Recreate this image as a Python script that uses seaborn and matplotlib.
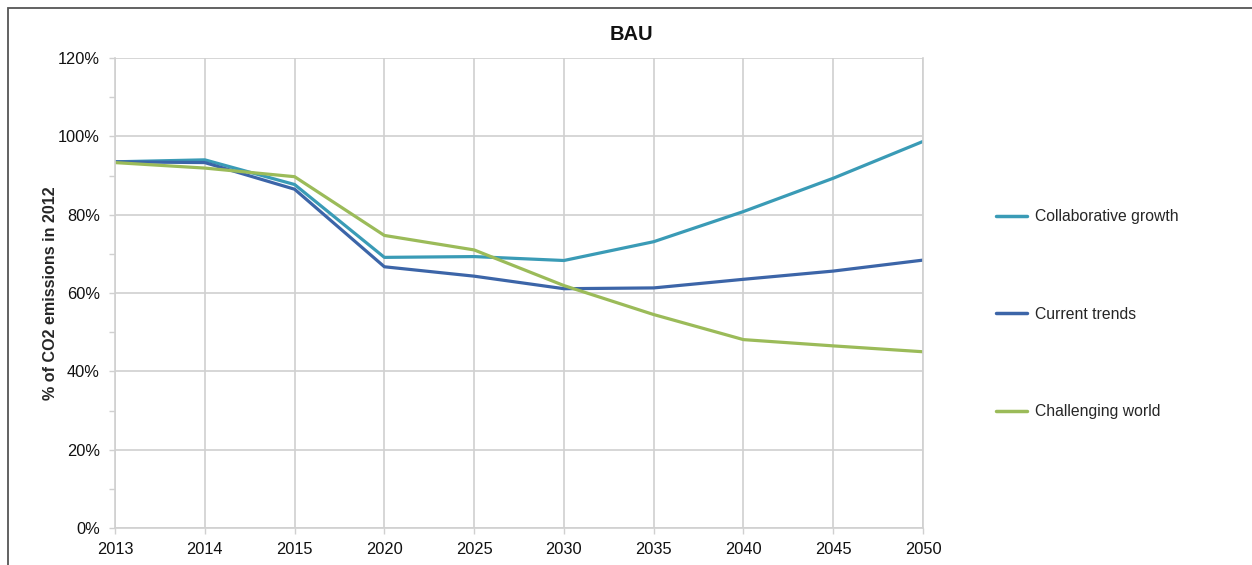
import numpy as np
import pandas as pd
import matplotlib
matplotlib.use("Agg")
import matplotlib.pyplot as plt
import seaborn as sns
from matplotlib.patches import Rectangle
from matplotlib.ticker import MultipleLocator, PercentFormatter

# ---------------------------------------------------------------------------
# Data (% of 2012 CO2 emissions)
# ---------------------------------------------------------------------------
years = ["2013", "2014", "2015", "2020", "2025", "2030", "2035", "2040", "2045", "2050"]
collaborative_growth = [93.5, 94.0, 87.7, 69.1, 69.3, 68.3, 73.1, 80.8, 89.3, 98.7]
current_trends = [93.5, 93.3, 86.5, 66.7, 64.3, 61.1, 61.3, 63.5, 65.6, 68.4]
challenging_world = [93.3, 91.9, 89.7, 74.7, 71.0, 61.9, 54.5, 48.1, 46.5, 45.0]

scenarios = ["Collaborative growth", "Current trends", "Challenging world"]
palette = {
    "Collaborative growth": "#3A9BB6",
    "Current trends": "#3C65A8",
    "Challenging world": "#9BBB59",
}

df = pd.concat(
    [
        pd.DataFrame({"year": years, "value": vals, "scenario": name})
        for name, vals in zip(scenarios, [collaborative_growth, current_trends, challenging_world])
    ],
    ignore_index=True,
)

# ---------------------------------------------------------------------------
# Plot
# ---------------------------------------------------------------------------
sns.set_style("white")
plt.rcParams["font.family"] = ["Liberation Sans", "DejaVu Sans"]

fig = plt.figure(figsize=(12.52, 5.65), dpi=100)
ax = fig.add_axes([0.0919, 0.0655, 0.6453, 0.8318])

sns.lineplot(
    data=df, x="year", y="value", hue="scenario", hue_order=scenarios,
    palette=palette, linewidth=2.3, sort=False, ax=ax,
)

ax.set_xlim(0, len(years) - 1)
ax.set_ylim(0, 120)
ax.yaxis.set_major_locator(MultipleLocator(20))
ax.yaxis.set_minor_locator(MultipleLocator(10))
ax.yaxis.set_major_formatter(PercentFormatter(decimals=0))

grid_col = "#d0d0d0"
ax.grid(True, which="major", color=grid_col, linewidth=1.2)
for side in ["left", "right", "top", "bottom"]:
    ax.spines[side].set_color(grid_col)
    ax.spines[side].set_linewidth(1.2)
ax.spines["top"].set_visible(False)

ax.tick_params(axis="both", which="major", length=4, width=1.0, color=grid_col,
               labelsize=11.8, labelcolor="#111111")
ax.tick_params(axis="x", which="major", pad=6)
ax.tick_params(axis="y", which="major", pad=7)
ax.tick_params(axis="y", which="minor", length=4, width=1.0, color=grid_col, left=True)
ax.tick_params(axis="x", which="major", bottom=True)
ax.tick_params(axis="y", which="major", left=True)

ax.set_xlabel("")
ax.set_ylabel("% of CO2 emissions in 2012", fontsize=11.6, fontweight="bold", labelpad=0)
fig.suptitle("BAU", x=0.504, y=0.955, fontsize=14.5, fontweight="bold", color="#111111")

leg = ax.legend(
    loc="center left", bbox_to_anchor=(1.073, 0.455), frameon=False,
    fontsize=11.3, labelspacing=5.25, handlelength=2.0, handletextpad=0.5,
)
for line in leg.get_lines():
    line.set_linewidth(2.5)

# outer frame (top and left edges visible, the rest cut off)
fig.patches.append(Rectangle((0.0064, -0.05), 1.1, 1.036, transform=fig.transFigure,
                             fill=False, edgecolor="#555555", linewidth=1.3))

fig.savefig("out.png", dpi=100)
